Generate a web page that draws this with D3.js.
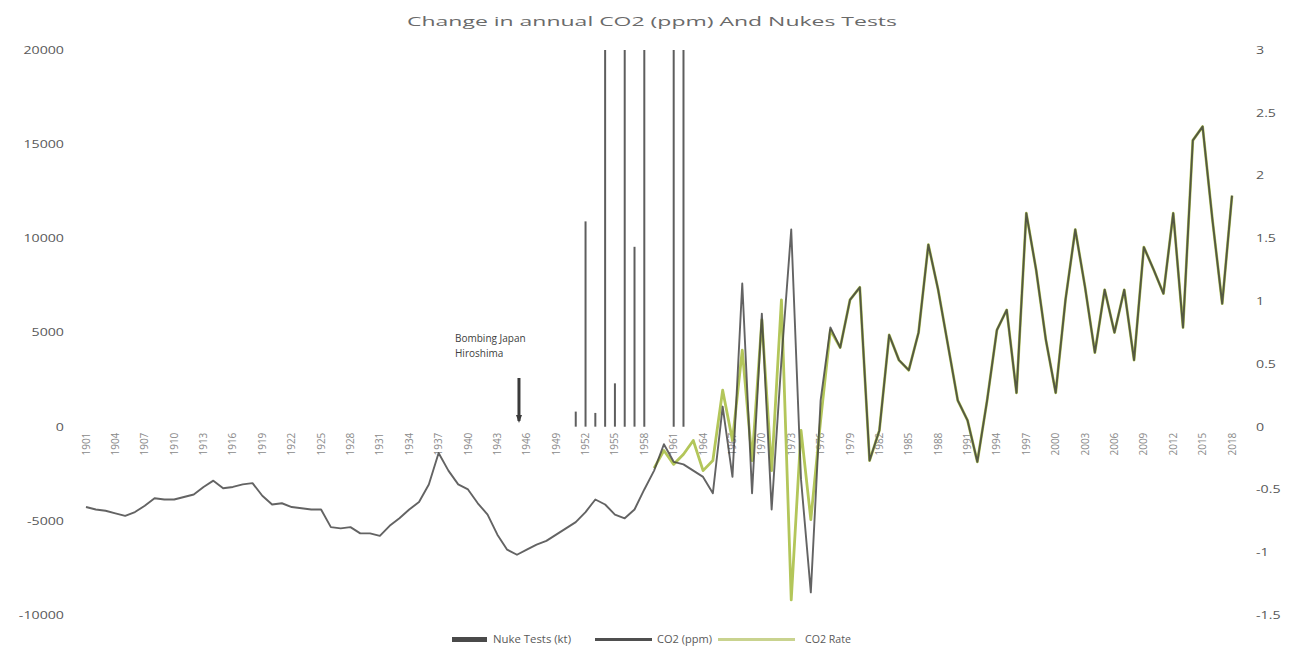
<!DOCTYPE html>
<html>
<head>
<meta charset="utf-8">
<script src="https://cdn.jsdelivr.net/npm/d3@7"></script>
<style>
  body { margin: 0; background: #fff; }
  svg { display: block; font-family: "Open Sans", "Liberation Sans", sans-serif; }
</style>
</head>
<body>
<svg id="chart" width="1290" height="663"></svg>
<script>
// ---- data ----
const chartTitle = "Change in annual CO2 (ppm) And Nukes Tests";

// yearly series, 1901..2018
const firstYear = 1901;
const lastYear = 2018;
const co2ChangeDark = [
  -0.64,-0.66,-0.67,-0.69,-0.71,-0.68,-0.63,-0.57,-0.58,-0.58,
  -0.56,-0.54,-0.48,-0.43,-0.49,-0.48,-0.46,-0.45,-0.55,-0.62,
  -0.61,-0.64,-0.65,-0.66,-0.66,-0.80,-0.81,-0.80,-0.85,-0.85,
  -0.87,-0.79,-0.73,-0.66,-0.60,-0.46,-0.21,-0.35,-0.46,-0.50,
  -0.61,-0.70,-0.86,-0.98,-1.02,-0.98,-0.94,-0.91,-0.86,-0.81,
  -0.76,-0.68,-0.58,-0.62,-0.70,-0.73,-0.66,-0.50,-0.35,-0.14,
  -0.28,-0.30,-0.35,-0.40,-0.53,0.16,-0.40,1.14,-0.53,0.90,
  -0.66,0.53,1.57,-0.42,-1.32,0.21,0.79,0.63,1.01,1.11,
  -0.27,-0.03,0.73,0.53,0.45,0.75,1.45,1.09,0.65,0.21,
  0.05,-0.28,0.21,0.77,0.93,0.27,1.70,1.25,0.69,0.27,
  1.01,1.57,1.11,0.59,1.09,0.75,1.09,0.53,1.43,1.25,
  1.06,1.70,0.79,2.28,2.39,1.65,0.98,1.84
];

// measured series, 1959..2018
const greenFirstYear = 1959;
const co2ChangeGreen = [
  -0.33,-0.19,-0.30,-0.22,-0.11,-0.35,-0.27,0.29,-0.11,0.61,
  -0.27,0.85,-0.35,1.01,-1.38,-0.03,-0.74,0.05,0.77,0.63,
  1.01,1.11,-0.27,-0.03,0.73,0.53,0.45,0.75,1.45,1.09,
  0.65,0.21,0.05,-0.28,0.21,0.77,0.93,0.27,1.70,1.25,
  0.69,0.27,1.01,1.57,1.11,0.59,1.09,0.75,1.09,0.53,
  1.43,1.25,1.06,1.70,0.79,2.28,2.39,1.65,0.98,1.84
];

// atmospheric nuclear test yield per year (kt)
const testYears = [1951, 1952, 1953, 1954, 1955, 1956, 1957, 1958, 1961, 1962];
const testYield = [800, 10900, 730, 48000, 2300, 22000, 9550, 57000, 87000, 170000];

// axis ticks
const leftTicks = [20000, 15000, 10000, 5000, 0, -5000, -10000];
const rightTicks = [3, 2.5, 2, 1.5, 1, 0.5, 0, -0.5, -1, -1.5];
const yearTickStep = 3;

// annotation
const noteYear = 1945;
const noteLines = ["Bombing Japan", "Hiroshima"];

// legend
const legendLabels = ["Nuke Tests (kt)", "CO2 (ppm)", "CO2 Rate"];

// ---- drawing ----
const svg = d3.select("#chart");
const textStretch = 1.35;

const x = d3.scaleLinear().domain([firstYear, lastYear]).range([86, 1232]);
const yL = d3.scaleLinear().domain([-10000, 20000]).range([615, 50]);
const yR = d3.scaleLinear().domain([-1.5, 3]).range([615, 50]);

svg.append("defs").append("clipPath").attr("id", "plotClip")
  .append("rect").attr("x", 60).attr("y", yL(20000)).attr("width", 1200).attr("height", yL(-10000) - yL(20000));

// title
svg.append("text")
  .attr("x", 652).attr("y", 26)
  .attr("text-anchor", "middle")
  .attr("font-size", 13.5)
  .attr("fill", "#6a6a6a")
  .attr("textLength", 490)
  .attr("lengthAdjust", "spacingAndGlyphs")
  .text(chartTitle);

// left axis
const gL = svg.append("g").attr("transform", "translate(68,0)")
  .call(d3.axisLeft(yL).tickValues(leftTicks).tickSize(0).tickPadding(3).tickFormat(d => String(d)));
gL.select(".domain").remove();
gL.selectAll("text").attr("font-size", 10.5).attr("fill", "#595959")
  .attr("font-family", "\"Open Sans\", sans-serif")
  .attr("transform", `scale(${textStretch},1)`);

// right axis
const gR = svg.append("g").attr("transform", "translate(1252,0)")
  .call(d3.axisRight(yR).tickValues(rightTicks).tickSize(0).tickPadding(3).tickFormat(d => String(d)));
gR.select(".domain").remove();
gR.selectAll("text").attr("font-size", 10.5).attr("fill", "#595959")
  .attr("font-family", "\"Open Sans\", sans-serif")
  .attr("transform", `scale(${textStretch},1)`);

// year labels along the zero line
const yearTicks = d3.range(firstYear, lastYear + 1, yearTickStep);
svg.append("g").selectAll("text").data(yearTicks).join("text")
  .attr("transform", d => `translate(${x(d) + 3.5},${yL(0) + 6}) rotate(-90)`)
  .attr("text-anchor", "end")
  .attr("font-size", 10)
  .attr("fill", "#8a8a8a")
  .text(d => d);

const plot = svg.append("g").attr("clip-path", "url(#plotClip)");

// nuclear test bars
plot.selectAll("line.test").data(testYears).join("line")
  .attr("class", "test")
  .attr("x1", d => x(d)).attr("x2", d => x(d))
  .attr("y1", yL(0))
  .attr("y2", (d, i) => yL(testYield[i]))
  .attr("stroke", "#5e5e5e")
  .attr("stroke-width", 2);

// series lines
const darkData = co2ChangeDark.map((v, i) => [firstYear + i, v]);
const greenData = co2ChangeGreen.map((v, i) => [greenFirstYear + i, v]);
const line = d3.line().x(d => x(d[0])).y(d => yR(d[1]));

plot.append("path").datum(greenData)
  .attr("d", line)
  .attr("fill", "none")
  .attr("stroke", "#b3c65a")
  .attr("stroke-width", 2.8)
  .attr("stroke-linejoin", "round");

plot.append("path").datum(darkData)
  .attr("d", line)
  .attr("fill", "none")
  .attr("stroke", "#3c3c3c")
  .attr("stroke-opacity", 0.8)
  .attr("stroke-width", 1.9)
  .attr("stroke-linejoin", "round");

// annotation
const ax = x(noteYear) + 2;
svg.append("line")
  .attr("x1", ax).attr("x2", ax)
  .attr("y1", 378).attr("y2", 421)
  .attr("stroke", "#3a3a3a").attr("stroke-width", 3);
svg.append("path")
  .attr("d", `M${ax - 3},415 L${ax + 3},415 L${ax},423 Z`)
  .attr("fill", "#3a3a3a");
const noteText = svg.append("text")
  .attr("font-size", 10).attr("fill", "#404040");
noteLines.forEach((t, i) => {
  noteText.append("tspan").attr("x", 455).attr("y", 342 + i * 15).text(t);
});

// legend
const lg = svg.append("g").attr("font-size", 10).attr("fill", "#595959");
lg.append("rect").attr("x", 452).attr("y", 637).attr("width", 35).attr("height", 5).attr("fill", "#4a4a4a");
lg.append("text").attr("x", 493).attr("y", 643).attr("textLength", 78).attr("lengthAdjust", "spacingAndGlyphs").text(legendLabels[0]);
lg.append("line").attr("x1", 595).attr("x2", 652).attr("y1", 639.5).attr("y2", 639.5).attr("stroke", "#4f4f4f").attr("stroke-width", 3);
lg.append("text").attr("x", 657).attr("y", 643).attr("textLength", 55).attr("lengthAdjust", "spacingAndGlyphs").text(legendLabels[1]);
lg.append("line").attr("x1", 718).attr("x2", 795).attr("y1", 639.5).attr("y2", 639.5).attr("stroke", "#c9d38f").attr("stroke-width", 3);
lg.append("text").attr("x", 805).attr("y", 643).attr("textLength", 46).attr("lengthAdjust", "spacingAndGlyphs").text(legendLabels[2]);
</script>
</body>
</html>
